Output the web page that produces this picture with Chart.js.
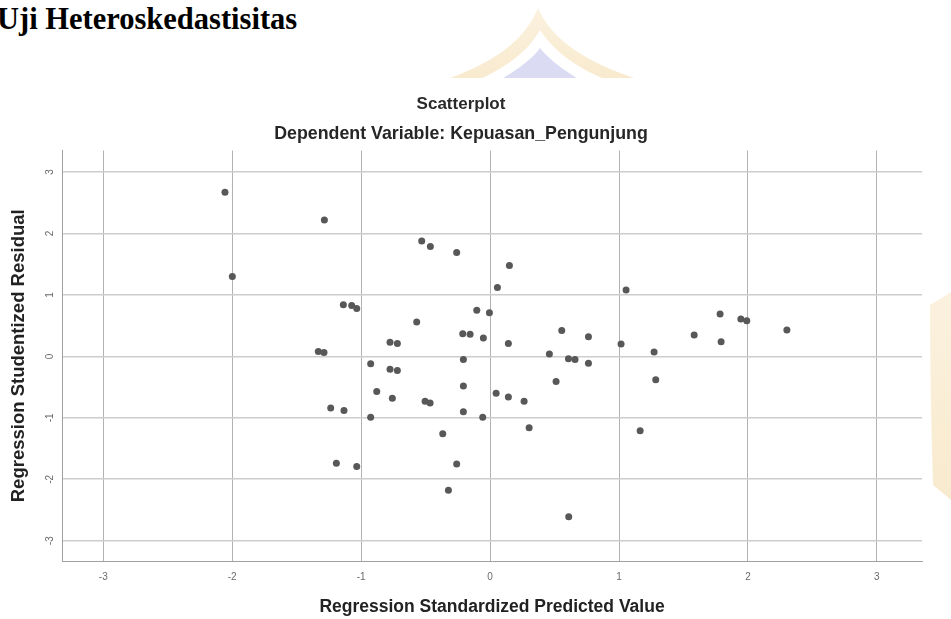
<!DOCTYPE html>
<html>
<head>
<meta charset="utf-8">
<script src="https://cdn.jsdelivr.net/npm/chart.js@4/dist/chart.umd.min.js"></script>
<style>
html,body{margin:0;padding:0;background:#fff;width:951px;height:619px;overflow:hidden;}
svg,canvas{position:absolute;left:0;top:0;}
#heading{position:absolute;left:-3px;top:2px;font-family:"Liberation Serif","Times New Roman",serif;font-weight:bold;font-size:30.5px;line-height:35px;color:#000;white-space:nowrap;}
</style>
</head>
<body>
<svg width="951" height="619">
  <defs>
    <linearGradient id="beige" x1="0" y1="0" x2="0" y2="1">
      <stop offset="0" stop-color="#f7e6c4"/>
      <stop offset="1" stop-color="#f3d9a6"/>
    </linearGradient>
  </defs>
  <path d="M 445 80 C 495 62, 525 40, 538 8 C 552 40, 585 62, 640 80 Z" fill="url(#beige)" opacity="0.55"/>
  <path d="M 478 80 C 510 66, 530 48, 540 30 C 552 48, 572 66, 607 80 Z" fill="#ffffff"/>
  <path d="M 500 80 C 520 68, 533 58, 540 48 C 548 58, 560 68, 580 80 Z" fill="#cfcff0" opacity="0.75"/>
  <path d="M 930 305 C 938 300, 945 296, 951 292 L 951 500 L 933 485 C 931 420, 930 360, 930 305 Z" fill="url(#beige)" opacity="0.55"/>
  <rect x="0" y="78" width="930" height="541" fill="#ffffff"/>
</svg>
<div id="heading">Uji Heteroskedastisitas</div>
<canvas id="c" width="951" height="619"></canvas>
<script>
// Regression Standardized Predicted Value (x) and Regression Studentized Residual (y)
const predicted = [
  -2.056, -1.285, -1.999, -1.138, -1.073, -1.034, -1.332, -1.288,
  -0.530, -0.463, -0.259, 0.150, 0.057, 1.055, -0.103, -0.005,
  -0.569, -0.212, -0.155, -0.052, -0.776, -0.719, 0.556, 0.763,
  0.142, 1.016, -0.926, -0.776, -0.719, -0.207, 0.460, 0.608,
  0.659, 0.763, 1.784, 1.945, 1.991, 2.302, 1.583, 1.792,
  1.272, -1.236, -1.133, -1.192, -1.034, -0.879, -0.758, -0.504,
  -0.465, -0.207, -0.207, -0.057, -0.926, 0.047, 0.142, 0.264,
  0.512, 0.303, -0.367, -0.259, -0.323, 0.610, 1.285, 1.164
];
const residual = [
  2.67, 2.22, 1.30, 0.84, 0.83, 0.78, 0.08, 0.065,
  1.88, 1.79, 1.69, 1.48, 1.12, 1.08, 0.75, 0.71,
  0.56, 0.37, 0.36, 0.30, 0.23, 0.21, 0.42, 0.32,
  0.21, 0.20, -0.12, -0.21, -0.23, -0.05, 0.04, -0.04,
  -0.05, -0.11, 0.69, 0.61, 0.58, 0.43, 0.35, 0.24,
  0.07, -0.84, -0.88, -1.74, -1.79, -0.57, -0.68, -0.73,
  -0.76, -0.48, -0.90, -0.99, -0.99, -0.60, -0.66, -0.73,
  -0.41, -1.16, -1.26, -1.75, -2.18, -2.61, -0.38, -1.21
];
const xTickLabels = ['-3', '-2', '-1', '0', '1', '2', '3'];
const yTickLabels = ['-3', '-2', '-1', '0', '1', '2', '3'];

const points = predicted.map((x, i) => ({x: x, y: residual[i]}));
const FONT = "'Liberation Sans', Arial, sans-serif";

new Chart(document.getElementById('c'), {
  type: 'scatter',
  data: {
    datasets: [{
      data: points,
      pointRadius: 3.5,
      pointHoverRadius: 3.5,
      pointBackgroundColor: '#585858',
      pointBorderWidth: 0,
      showLine: false
    }]
  },
  options: {
    responsive: false,
    animation: false,
    events: [],
    layout: {padding: {left: 0, right: 29, top: 94.5, bottom: 0}},
    plugins: {
      legend: {display: false},
      tooltip: {enabled: false},
      title: {
        display: true,
        text: 'Scatterplot',
        color: '#2a2a2a',
        font: {family: FONT, size: 17, weight: 'bold'},
        padding: {top: 0, bottom: 8.8}
      },
      subtitle: {
        display: true,
        text: 'Dependent Variable: Kepuasan_Pengunjung',
        color: '#262626',
        font: {family: FONT, size: 17.8, weight: 'bold'},
        padding: {top: 0, bottom: 5.5}
      }
    },
    scales: {
      x: {
        type: 'linear',
        position: 'bottom',
        min: -3.32,
        max: 3.35,
        afterFit: s => { s.height = 58; },
        ticks: {
          stepSize: 1,
          includeBounds: false,
          color: '#6a6a6a',
          font: {family: FONT, size: 10},
          padding: 10,
          maxRotation: 0,
          minRotation: 0,
          callback: v => xTickLabels[Math.round(v) + 3]
        },
        grid: {color: '#b2b2b2', lineWidth: 1, drawTicks: false},
        border: {color: '#a0a0a0', width: 1},
        title: {
          display: true,
          text: 'Regression Standardized Predicted Value',
          color: '#222222',
          font: {family: FONT, size: 17.5, weight: 'bold'},
          padding: {top: 0, bottom: 1}
        }
      },
      y: {
        type: 'linear',
        position: 'left',
        min: -3.33,
        max: 3.35,
        afterFit: s => { s.width = 62; },
        ticks: {
          stepSize: 1,
          includeBounds: false,
          color: '#6a6a6a',
          font: {family: FONT, size: 10},
          padding: 7,
          minRotation: 90,
          maxRotation: 90,
          crossAlign: 'center',
          callback: v => yTickLabels[Math.round(v) + 3]
        },
        grid: {color: '#cdcdcd', lineWidth: 1.6, drawTicks: false},
        border: {color: '#a0a0a0', width: 1},
        title: {
          display: true,
          text: 'Regression Studentized Residual',
          color: '#222222',
          font: {family: FONT, size: 18.5, weight: 'bold'},
          padding: {top: 8, bottom: 0}
        }
      }
    }
  }
});
</script>
</body>
</html>
